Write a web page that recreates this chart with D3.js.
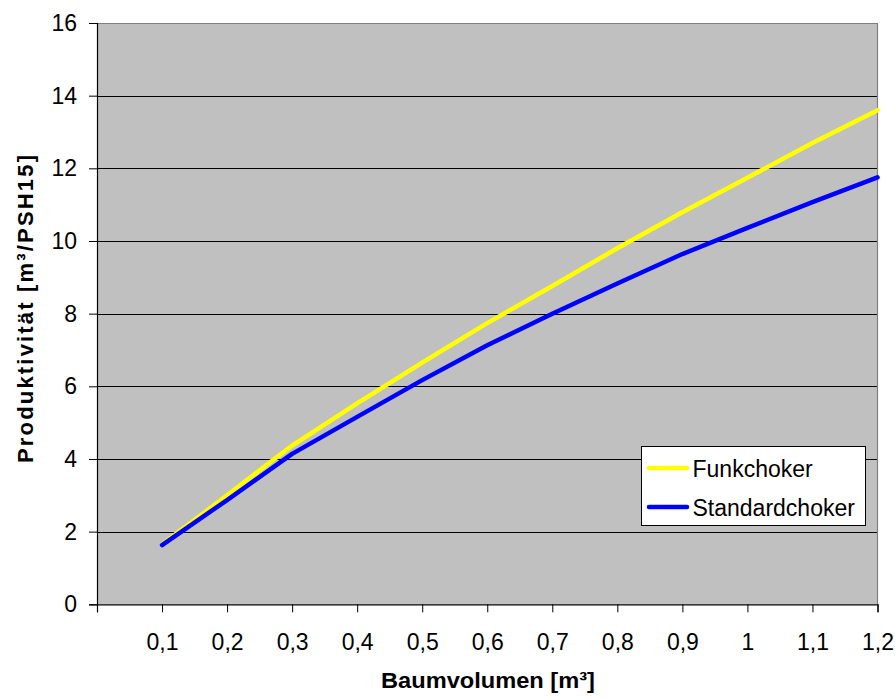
<!DOCTYPE html>
<html>
<head>
<meta charset="utf-8">
<script src="https://cdn.jsdelivr.net/npm/d3@7"></script>
<style>
  body { margin: 0; background: #fff; }
  text { font-family: "Liberation Sans", Arial, sans-serif; fill: #000; }
</style>
</head>
<body>
<svg id="chart" width="895" height="698"></svg>
<script>
// Tree volume categories (m³)
const volumes = [0.1, 0.2, 0.3, 0.4, 0.5, 0.6, 0.7, 0.8, 0.9, 1.0, 1.1, 1.2];
// Productivity (m³/PSH15) per choker type
const funkchoker = [1.65, 3.0, 4.37, 5.53, 6.65, 7.74, 8.76, 9.8, 10.79, 11.74, 12.7, 13.6];
const standardchoker = [1.63, 2.87, 4.14, 5.16, 6.17, 7.13, 8.0, 8.83, 9.64, 10.36, 11.07, 11.75];
const xTickLabels = ["0,1", "0,2", "0,3", "0,4", "0,5", "0,6", "0,7", "0,8", "0,9", "1", "1,1", "1,2"];
const yTicks = [0, 2, 4, 6, 8, 10, 12, 14, 16];
const seriesNames = ["Funkchoker", "Standardchoker"];
const seriesColors = ["#ffff00", "#0000ff"];

const svg = d3.select("#chart");
const m = { left: 97, right: 877.5, top: 23, bottom: 604.3 };

const x = d3.scaleLinear().domain([0, 1.2]).range([m.left, m.right]);
const y = d3.scaleLinear().domain([0, 16]).range([m.bottom, m.top]);

// Plot background
svg.append("rect")
  .attr("x", m.left).attr("y", m.top)
  .attr("width", m.right - m.left).attr("height", m.bottom - m.top)
  .attr("fill", "#c0c0c0");

// Horizontal gridlines
svg.append("g").selectAll("line")
  .data(yTicks.filter(d => d > 0 && d < 16))
  .join("line")
  .attr("x1", m.left).attr("x2", m.right)
  .attr("y1", d => Math.round(y(d)) + 0.5).attr("y2", d => Math.round(y(d)) + 0.5)
  .attr("stroke", "#000").attr("stroke-width", 1);

// Top and right frame
svg.append("path")
  .attr("d", `M${m.left},${Math.round(m.top) + 0.5}H${m.right}V${m.bottom}`)
  .attr("fill", "none").attr("stroke", "#808080").attr("stroke-width", 1.2);

const tickFont = "23px";

// Y axis
const yAxis = d3.axisLeft(y).tickValues(yTicks).tickSize(8).tickPadding(12).tickFormat(d3.format("d"));
const gy = svg.append("g").attr("transform", `translate(${m.left},0)`).call(yAxis);
gy.select(".domain").attr("stroke", "#000").attr("stroke-width", 1.2);
gy.selectAll(".tick line").attr("stroke", "#000");
gy.selectAll(".tick text").style("font-size", tickFont).attr("fill", "#000")
  .style("font-family", "'Liberation Sans', Arial, sans-serif");

// X axis: tick marks at each category plus the origin
const xAxis = d3.axisBottom(x).tickValues([0].concat(volumes)).tickSize(8).tickPadding(21)
  .tickFormat((d, i) => i === 0 ? "" : xTickLabels[i - 1]);
const gx = svg.append("g").attr("transform", `translate(0,${m.bottom})`).call(xAxis);
gx.select(".domain").attr("stroke", "#000").attr("stroke-width", 1.2);
gx.selectAll(".tick line").attr("stroke", "#000");
gx.selectAll(".tick text").style("font-size", tickFont).attr("fill", "#000")
  .style("font-family", "'Liberation Sans', Arial, sans-serif");

// Series lines
const line = d3.line().x((d, i) => x(volumes[i])).y(d => y(d));
[funkchoker, standardchoker].forEach((vals, k) => {
  svg.append("path")
    .datum(vals)
    .attr("d", line)
    .attr("fill", "none")
    .attr("stroke", seriesColors[k])
    .attr("stroke-width", 4.5)
    .attr("stroke-linejoin", "round")
    .attr("stroke-linecap", "round");
});

// Axis titles
svg.append("text")
  .attr("x", 488).attr("y", 688)
  .attr("text-anchor", "middle")
  .attr("textLength", 214).attr("lengthAdjust", "spacingAndGlyphs")
  .style("font-size", "22px").style("font-weight", "bold")
  .text("Baumvolumen [m³]");

svg.append("text")
  .attr("transform", "translate(33,309) rotate(-90)")
  .attr("text-anchor", "middle")
  .attr("textLength", 308).attr("lengthAdjust", "spacing")
  .style("font-size", "22px").style("font-weight", "bold")
  .text("Produktivität [m³/PSH15]");

// Legend
const lg = svg.append("g");
lg.append("rect")
  .attr("x", 641.5).attr("y", 446.5).attr("width", 224).attr("height", 79)
  .attr("fill", "#fff").attr("stroke", "#000").attr("stroke-width", 1);
seriesNames.forEach((name, k) => {
  const cy = 468 + k * 39;
  lg.append("line")
    .attr("x1", 649).attr("x2", 687).attr("y1", cy).attr("y2", cy)
    .attr("stroke", seriesColors[k]).attr("stroke-width", 4.5).attr("stroke-linecap", "round");
  lg.append("text")
    .attr("x", 692.5).attr("y", cy + 8.5)
    .style("font-size", "23px")
    .text(name);
});
</script>
</body>
</html>
